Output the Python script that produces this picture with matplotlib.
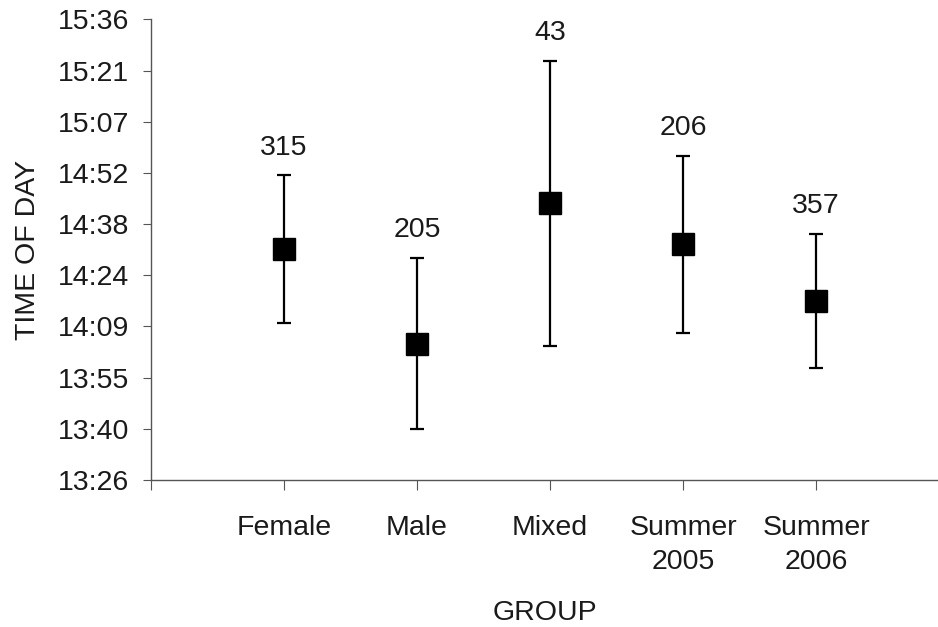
import numpy as np
import matplotlib.pyplot as plt
from matplotlib.ticker import MultipleLocator, FuncFormatter

plt.rcParams['font.family'] = ['Liberation Sans', 'DejaVu Sans']

# groupes et valeurs (minutes depuis minuit)
groups = ['Female', 'Male', 'Mixed', 'Summer\n2005', 'Summer\n2006']
mean_min = [871.3, 844.8, 884.2, 872.7, 856.8]
sd_min = [20.8, 24.0, 40.0, 24.9, 18.9]
n_obs = [315, 205, 43, 206, 357]

# Excel garde l'heure en fraction de jour
mean_day = np.array(mean_min) / 1440
sd_day = np.array(sd_min) / 1440
x = np.arange(1, len(groups) + 1)


def hhmm(v, pos):
    m = int(v * 1440 + 1e-6)
    return '%d:%02d' % (m // 60, m % 60)


fs = 20.5
fig = plt.figure(figsize=(9.38, 6.27), dpi=100)
ax = fig.add_axes([0.161, 0.2344, 0.839, 0.7348])

ax.errorbar(x, mean_day, yerr=sd_day, fmt='s', color='black', ms=16,
            elinewidth=1.6, capsize=5.3, capthick=1.6)

for xi, top, n in zip(x, mean_day + sd_day, n_obs):
    ax.annotate(str(n), (xi, top), xytext=(0, 15), textcoords='offset points',
                ha='center', va='baseline', fontsize=fs, color='#1a1a1a')

ax.set_xlim(0, 5.917)
ax.set_ylim(0.56, 0.65)
ax.yaxis.set_major_locator(MultipleLocator(0.01))
ax.yaxis.set_major_formatter(FuncFormatter(hhmm))
ax.set_xticks(np.arange(0, len(groups) + 1))
ax.set_xticklabels([''] + groups, linespacing=1.42)

ax.tick_params(axis='y', length=6, pad=10, labelsize=fs,
               color='#555555', labelcolor='#1a1a1a')
ax.tick_params(axis='x', length=7, pad=18, labelsize=fs,
               color='#555555', labelcolor='#1a1a1a')

for s in ['top', 'right']:
    ax.spines[s].set_visible(False)
for s in ['left', 'bottom']:
    ax.spines[s].set_color('#555555')
    ax.spines[s].set_linewidth(1.0)

ax.set_ylabel('TIME OF DAY', fontsize=fs, color='#1a1a1a', labelpad=12)
ax.set_xlabel('GROUP', fontsize=fs, color='#1a1a1a', labelpad=18)

fig.savefig('out.png', dpi=100)
